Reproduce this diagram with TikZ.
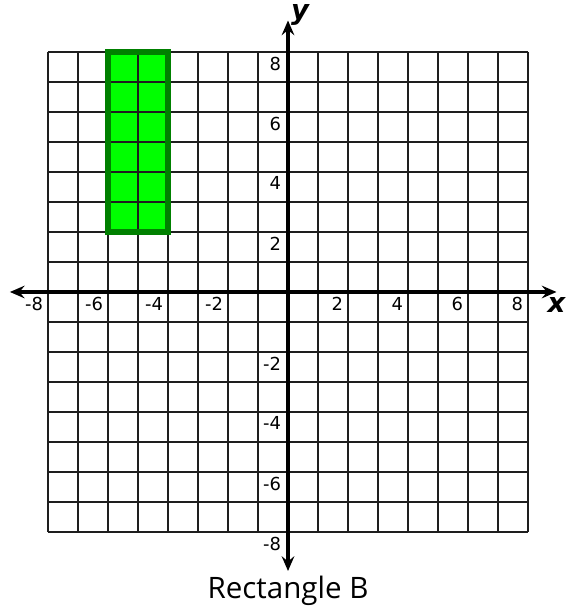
\documentclass[tikz,border=0pt]{standalone}
\usepackage{fontspec}
\setmainfont{DejaVu Sans}
\newfontfamily\titlefont{Open Sans}
\usetikzlibrary{positioning}
\usetikzlibrary{arrows.meta}
\definecolor{rectfill}{RGB}{0,255,0}
\definecolor{rectedge}{RGB}{0,128,0}
\definecolor{gridgray}{RGB}{30,30,30}
\tikzset{
  gridline/.style={draw=gridgray, line width=0.85pt},
  axisline/.style={line width=1.9pt, {Stealth[length=7pt,width=6pt,inset=2.5pt]}-{Stealth[length=7pt,width=6pt,inset=2.5pt]}},
  ticklabel/.style={font=\fontsize{8.5}{9}\selectfont, inner sep=1pt},
  axislabel/.style={font=\fontsize{13}{14}\selectfont\bfseries\itshape, inner sep=0pt}
}
\begin{document}
\begin{tikzpicture}[x=0.5cm, y=0.5cm]
    \useasboundingbox (-9.6,-10.6) rectangle (9.3,9.733);

    % Define nodes
    \fill[rectfill] (-6,2) rectangle (-4,8);
    \foreach \i in {-8,...,8} {
      \draw[gridline] (\i,-8) -- (\i,8);
      \draw[gridline] (-8,\i) -- (8,\i);
    }
    \draw[draw=rectedge, line width=2.6pt] (-6,2) rectangle (-4,8);

    \coordinate (xl) at (-9.27,0);
    \coordinate (xr) at (8.95,0);
    \coordinate (yb) at (0,-9.3);
    \coordinate (yt) at (0,9.05);

    \foreach \v in {-8,-6,-4,-2,2,4,6,8} {
      \node[ticklabel, anchor=north east] (xt\v) at (\v-0.08,-0.1) {\v};
      \node[ticklabel, anchor=north east] (yt\v) at (-0.15,\v-0.08) {\v};
    }

    \node[axislabel] (xname) at (8.95,-0.42) {x};
    \node[axislabel] (yname) at (0.4,9.25) {y};
    \node[font=\titlefont\fontsize{14}{16}\selectfont] (title) at (0,-9.95) {Rectangle B};

    % Connect the nodes
    \draw[axisline] (xl) -- (xr);
    \draw[axisline] (yb) -- (yt);
\end{tikzpicture}
\end{document}
